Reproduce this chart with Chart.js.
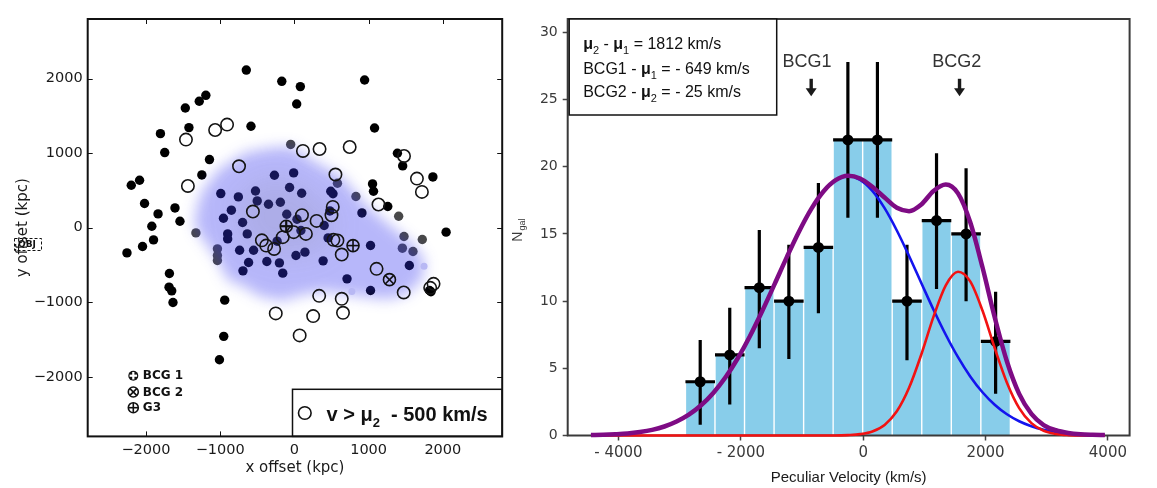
<!DOCTYPE html>
<html>
<head>
<meta charset="utf-8">
<script src="https://cdn.jsdelivr.net/npm/chart.js@4.4.0/dist/chart.umd.min.js"></script>
<style>
  body { margin: 0; background: #fff; width: 1157px; height: 488px; overflow: hidden; position: relative; }
  #c1 { position: absolute; left: 0; top: 0; }
  #c2 { position: absolute; left: 510px; top: 0; }
</style>
</head>
<body>
<canvas id="c1" width="510" height="488"></canvas>
<canvas id="c2" width="647" height="488"></canvas>
<script>
// ---- left panel: galaxy positions, x/y offset in kpc ----
const blackPts = [
  [-648,2115],[-170,1964],[-1193,1776],[-1282,1696],[-1470,1606],[-1421,1343],[-585,1361],
  [-1805,1262],[-1747,1008],[-1144,914],[-1247,708],[-2086,637],[-2198,570],[-2019,324],
  [-1837,185],[-1609,265],[-1542,87],[-1921,20],[-2256,-338],[-2046,-252],[-1898,-164],
  [-1684,-614],[-1689,-798],[-1653,-847],[-1636,-1003],[-939,-972],[-952,-1458],[-1010,-1772],
  [946,1981],[80,1893],[31,1660],[1080,1338],[1388,999],[1459,829],[1866,681],[1053,587],
  [1066,489],[1258,284],[2044,-60],[1821,-842],[1840,-860],
  [-992,458],[-755,413],[-524,493],[-501,359],[-349,315],[-269,704],[-189,342],[-849,235],
  [-956,127],[-698,70],[-103,181],[-65,539],[-10,735],[98,462],[490,489],[520,455],[477,225],
  [910,198],[35,114],[401,30],[-899,-83],[-899,-150],[-738,-302],[-635,-83],[-550,-302],
  [-617,-467],[-693,-579],[-371,-453],[-202,-472],[-157,-610],[-233,-181],[1026,-239],
  [1549,-507],[1026,-842],[709,-686],[387,-445],[142,-328],[21,-373],[454,-137],[88,-38]
];
const grayPts = [
  [-1327,-70],[-1037,-284],[-1037,-373],[-1037,-440],[-50,1117],[829,418],[580,596],
  [1405,154],[1477,-118],[1723,-158],[1455,-275],[1598,-320]
];
const faintPts = [[1747,-518],[774,-856]];
const openPts = [
  [-907,1383],[-1068,1311],[-1461,1182],[-1435,560],[-746,824],[-559,217],[115,1030],
  [339,1056],[745,1083],[1477,962],[1651,659],[1718,480],[553,713],[1133,311],[517,279],
  [500,168],[102,168],[299,91],[-251,-1150],[-438,-170],[-380,-240],[-273,-285],[-157,-127],
  [-10,-60],[155,-83],[526,-163],[580,-172],[638,-360],[1107,-552],[1473,-869],[1875,-753],
  [1830,-807],[334,-914],[638,-954],[655,-1142],[253,-1186],[71,-1445]
];
const bcg1Pos = [-110, 20];
const bcg2Pos = [1281, -697];
const g3Pos = [790, -240];
const blobOutline = [
  [-1340,0],[-1330,200],[-1250,480],[-1020,780],[-660,1010],[-300,1075],[-40,1090],[250,900],
  [630,690],[980,290],[1300,20],[1600,-220],[1760,-450],[1720,-700],[1500,-900],[1250,-960],
  [950,-930],[400,-850],[100,-900],[-150,-980],[-450,-930],[-700,-780],[-900,-700],
  [-1030,-440],[-1200,-200]
];
const blobCore = [[-800,400],[-300,700],[200,500],[550,100],[400,-300],[-200,-400],[-700,-200]];
const xyTicks = [-2000, -1000, 0, 1000, 2000];

// ---- right panel: peculiar velocity histogram (km/s) ----
const binCenters = [-2664, -2181, -1698, -1215, -732, -250, 233, 716, 1199, 1682, 2165];
const binWidth = 483;
const counts = [4, 6, 11, 10, 14, 22, 22, 10, 16, 15, 7];
const errLo = [0.8, 2.3, 6.5, 5.7, 9.1, 16.2, 16.2, 5.6, 10.9, 10.0, 3.1];
const errHi = [7.1, 9.5, 15.3, 14.2, 18.8, 27.8, 27.8, 14.2, 21.0, 19.9, 10.7];

const curveV = [-4450,-4250,-4050,-3850,-3650,-3450,-3250,-3050,-2850,-2650,-2450,-2250,-2050,
  -1850,-1650,-1450,-1250,-1050,-850,-650,-450,-250,-50,150,350,550,750,950,1150,1350,1550,
  1750,1950,2150,2350,2550,2750,2950,3150,3350,3550,3750,3950];
const blueFit = [0.03,0.05,0.09,0.15,0.26,0.42,0.67,1.04,1.55,2.25,3.17,4.33,5.75,7.41,9.27,
  11.25,13.26,15.17,16.85,18.16,19.0,19.3,19.03,18.21,16.92,15.26,13.36,11.35,9.36,7.5,5.83,
  4.4,3.22,2.29,1.58,1.06,0.69,0.43,0.27,0.16,0.09,0.05,0.03];
const redFit = [0,0,0,0,0,0,0,0,0,0,0,0,0,0,0,0,0,0,0,0,0,0.03,0.1,0.3,0.79,1.8,3.55,6.03,8.85,
  11.18,12.19,11.47,9.3,6.51,3.93,2.04,0.92,0.35,0.12,0.03,0,0,0];
const totalFit = [0.03,0.05,0.09,0.15,0.26,0.42,0.67,1.04,1.55,2.25,3.17,4.33,5.75,7.41,9.27,
  11.25,13.26,15.17,16.85,18.16,19.0,19.33,19.13,18.51,17.71,16.95,16.7,17.2,18.2,18.68,18.02,
  15.87,12.52,8.8,5.51,3.1,1.61,0.78,0.39,0.19,0.09,0.05,0.03];
const velTicks = [-4000, -2000, 0, 2000, 4000];
const countTicks = [0, 5, 10, 15, 20, 25, 30];
const bcgNames = ['BCG1', 'BCG2'];
const bcgLabelV = [-920, 1530];
const bcgArrowV = [-850, 1575];

Chart.defaults.animation = false;
Chart.defaults.plugins.legend.display = false;
Chart.defaults.plugins.tooltip.enabled = false;
Chart.defaults.font.family = '"DejaVu Sans", sans-serif';

const toXY = pts => pts.map(p => ({ x: p[0], y: p[1] }));

function seg(ctx, x1, y1, x2, y2) {
  ctx.beginPath(); ctx.moveTo(x1, y1); ctx.lineTo(x2, y2); ctx.stroke();
}

function drawRich(ctx, parts, x, y) {
  for (const [t, f, dy] of parts) {
    ctx.font = f;
    ctx.fillText(t, x, y + dy);
    x += ctx.measureText(t).width;
  }
}

function sym(ctx, kind, px, py, r) {
  ctx.save();
  ctx.strokeStyle = '#111';
  ctx.lineWidth = 1.6;
  if (kind === 'filled') {
    ctx.fillStyle = '#111';
    ctx.beginPath(); ctx.arc(px, py, r, 0, Math.PI * 2); ctx.fill();
    ctx.strokeStyle = '#fff'; ctx.lineWidth = 2.2;
    seg(ctx, px - r * 0.75, py, px + r * 0.75, py);
    seg(ctx, px, py - r * 0.75, px, py + r * 0.75);
  } else {
    ctx.beginPath(); ctx.arc(px, py, r, 0, Math.PI * 2); ctx.stroke();
    if (kind === 'cross') {
      const d = r * 0.72;
      seg(ctx, px - d, py - d, px + d, py + d);
      seg(ctx, px - d, py + d, px + d, py - d);
    } else {
      if (kind === 'thick') ctx.lineWidth = 2.2;
      seg(ctx, px - r, py, px + r, py);
      seg(ctx, px, py - r, px, py + r);
    }
  }
  ctx.restore();
}

function blobPath(ctx, x, y, pts) {
  ctx.beginPath();
  pts.forEach((p, i) => {
    const px = x.getPixelForValue(p[0]), py = y.getPixelForValue(p[1]);
    if (i === 0) ctx.moveTo(px, py); else ctx.lineTo(px, py);
  });
  ctx.closePath();
}

const leftDecor = {
  id: 'leftDecor',
  afterDatasetDraw(chart, args) {
    if (chart.data.datasets[args.index].label !== 'gray') return;
    const { ctx, chartArea: ca, scales: { x, y } } = chart;
    ctx.save();
    ctx.beginPath(); ctx.rect(ca.left, ca.top, ca.width, ca.height); ctx.clip();
    ctx.filter = 'blur(7px)';
    ctx.fillStyle = 'rgba(50,50,240,0.35)';
    blobPath(ctx, x, y, blobOutline); ctx.fill();
    ctx.filter = 'blur(14px)';
    ctx.fillStyle = 'rgba(120,120,135,0.16)';
    blobPath(ctx, x, y, blobCore); ctx.fill();
    ctx.restore();
  },
  afterDraw(chart) {
    const { ctx, chartArea: ca, scales: { x, y } } = chart;
    ctx.save();
    // special galaxies
    sym(ctx, 'thick', x.getPixelForValue(bcg1Pos[0]), y.getPixelForValue(bcg1Pos[1]), 6);
    sym(ctx, 'cross', x.getPixelForValue(bcg2Pos[0]), y.getPixelForValue(bcg2Pos[1]), 6);
    sym(ctx, 'plus', x.getPixelForValue(g3Pos[0]), y.getPixelForValue(g3Pos[1]), 6);

    // inward tick marks on all four sides
    ctx.strokeStyle = '#111'; ctx.lineWidth = 1;
    xyTicks.forEach(v => {
      const px = Math.round(x.getPixelForValue(v)) + 0.5;
      seg(ctx, px, ca.bottom, px, ca.bottom - 5);
      seg(ctx, px, ca.top, px, ca.top + 5);
    });
    xyTicks.forEach(v => {
      const py = Math.round(y.getPixelForValue(v)) + 0.5;
      seg(ctx, ca.left, py, ca.left + 5, py);
      seg(ctx, ca.right, py, ca.right - 5, py);
    });

    // symbol key, lower left
    const kx = ca.left + 45.6;
    const keys = [['filled', 'BCG 1', -60.7], ['cross', 'BCG 2', -44.4], ['plus', 'G3', -28.7]];
    ctx.fillStyle = '#111';
    ctx.font = 'bold 12px "DejaVu Sans"';
    ctx.textBaseline = 'middle';
    keys.forEach(([k, t, dy]) => {
      sym(ctx, k, kx, ca.bottom + dy, 5);
      ctx.fillText(t, kx + 9.5, ca.bottom + dy + 0.5);
    });

    // velocity legend box, lower right
    const bw = 209.7, bh = 47.1;
    const bx = ca.right - bw, by = ca.bottom - bh;
    ctx.fillStyle = '#fff';
    ctx.fillRect(bx, by, bw, bh);
    ctx.strokeStyle = '#111'; ctx.lineWidth = 1.5;
    ctx.strokeRect(bx, by, bw, bh);
    ctx.lineWidth = 1.6;
    ctx.beginPath(); ctx.arc(bx + 12.3, by + 23.7, 6.3, 0, Math.PI * 2); ctx.stroke();
    ctx.fillStyle = '#111';
    ctx.textBaseline = 'alphabetic';
    const B = 'bold 20px "Liberation Sans"', S = 'bold 13px "Liberation Sans"';
    drawRich(ctx, [['v > ', B, 0], ['\u03bc', B, 0], ['2', S, 6], ['  - 500 km/s', B, 0]], bx + 34, by + 31.6);

    // stray dashed box over the y label
    ctx.setLineDash([3, 2]); ctx.lineWidth = 1;
    ctx.strokeRect(14.5, 238.5, 27, 12);
    ctx.setLineDash([]);
    ctx.font = 'bold 9px "DejaVu Sans"';
    ctx.textBaseline = 'middle';
    ctx.fillText('QBJ', 18, 245);

    // frame
    ctx.strokeStyle = '#111'; ctx.lineWidth = 2;
    ctx.strokeRect(ca.left, ca.top, ca.width, ca.height);
    ctx.restore();
  }
};

const minusFmt = v => (v < 0 ? '\u2212' + Math.abs(v) : String(v));

new Chart(document.getElementById('c1'), {
  type: 'scatter',
  data: {
    datasets: [
      { label: 'open', data: toXY(openPts), pointRadius: 6.2, pointBackgroundColor: 'rgba(0,0,0,0)',
        pointBorderColor: '#151515', pointBorderWidth: 1.6, order: 2 },
      { label: 'faint', data: toXY(faintPts), pointRadius: 3.5, pointBackgroundColor: '#b8b8f4',
        pointBorderWidth: 0, order: 3 },
      { label: 'gray', data: toXY(grayPts), pointRadius: 4.7, pointBackgroundColor: '#484848',
        pointBorderWidth: 0, order: 5 },
      { label: 'black', data: toXY(blackPts), pointRadius: 4.7, pointBackgroundColor: '#000',
        pointBorderWidth: 0, order: 6 }
    ]
  },
  options: {
    responsive: false,
    devicePixelRatio: 1,
    layout: { padding: { top: 19, right: 5.6, left: 0, bottom: 0 } },
    scales: {
      x: {
        type: 'linear', min: -2785, max: 2800,
        afterBuildTicks: s => { s.ticks = xyTicks.map(v => ({ value: v })); },
        afterFit: s => { s.height = 51.6; },
        grid: { display: false, drawTicks: false },
        border: { display: false },
        ticks: { font: { size: 14.5 }, color: '#1a1a1a', padding: 5, callback: minusFmt },
        title: { display: true, text: 'x offset (kpc)', color: '#1a1a1a',
                 font: { size: 15 }, padding: { top: 0, bottom: 11 } }
      },
      y: {
        type: 'linear', min: -2800, max: 2800,
        afterBuildTicks: s => { s.ticks = xyTicks.map(v => ({ value: v })); },
        afterFit: s => { s.width = 87.7; },
        grid: { display: false, drawTicks: false },
        border: { display: false },
        ticks: { font: { size: 14.5 }, color: '#1a1a1a', padding: 5, callback: minusFmt },
        title: { display: true, text: 'y offset (kpc)', color: '#1a1a1a',
                 font: { size: 15 }, padding: { top: 14, bottom: 0 } }
      }
    }
  },
  plugins: [leftDecor]
});

// ---- right panel ----
const errV = [], errH = [];
binCenters.forEach((c, i) => {
  errV.push({ x: c, y: errLo[i] }, { x: c, y: errHi[i] }, { x: c, y: null });
  errH.push({ x: c - binWidth / 2, y: counts[i] }, { x: c + binWidth / 2, y: counts[i] }, { x: c, y: null });
});
const curve = vals => curveV.map((v, i) => ({ x: v, y: vals[i] }));

const rightDecor = {
  id: 'rightDecor',
  afterDatasetDraw(chart, args) {
    if (chart.data.datasets[args.index].label !== 'hist') return;
    const { ctx, chartArea: ca } = chart;
    ctx.save();
    ctx.strokeStyle = '#3a3a3a'; ctx.lineWidth = 2;
    ctx.strokeRect(ca.left, ca.top, ca.width, ca.height);
    ctx.restore();
  },
  afterDraw(chart) {
    const { ctx, chartArea: ca, scales: { x, y } } = chart;
    ctx.save();
    // fit summary box
    const bx = ca.left + 1.5, by = ca.top, bw = 207.5, bh = 96;
    ctx.fillStyle = '#fff';
    ctx.fillRect(bx, by, bw, bh);
    ctx.strokeStyle = '#111'; ctx.lineWidth = 1.5;
    ctx.strokeRect(bx, by, bw, bh);
    ctx.fillStyle = '#111';
    const N = '16px "Liberation Sans"', B = 'bold 16px "Liberation Sans"', S = '11px "Liberation Sans"';
    const tx = bx + 14;
    drawRich(ctx, [['\u03bc', B, 0], ['2', S, 5], [' - ', N, 0], ['\u03bc', B, 0], ['1', S, 5],
                   [' = 1812 km/s', N, 0]], tx, by + 30);
    drawRich(ctx, [['BCG1 - ', N, 0], ['\u03bc', B, 0], ['1', S, 5], [' = - 649 km/s', N, 0]], tx, by + 55);
    drawRich(ctx, [['BCG2 - ', N, 0], ['\u03bc', B, 0], ['2', S, 5], [' = - 25 km/s', N, 0]], tx, by + 77.5);

    // BCG markers with arrows
    ctx.font = '18px "Liberation Sans"';
    ctx.textAlign = 'center';
    ctx.textBaseline = 'middle';
    bcgNames.forEach((name, i) => {
      ctx.fillStyle = '#333';
      ctx.fillText(name, x.getPixelForValue(bcgLabelV[i]), y.getPixelForValue(27.8));
      const ax = x.getPixelForValue(bcgArrowV[i]);
      const yTop = y.getPixelForValue(26.55), yBase = y.getPixelForValue(25.85), yTip = y.getPixelForValue(25.25);
      ctx.strokeStyle = '#1a1a1a';
      ctx.lineWidth = 3.4;
      seg(ctx, ax, yTop, ax, yBase + 1);
      ctx.fillStyle = '#1a1a1a';
      ctx.beginPath(); ctx.moveTo(ax - 5.5, yBase); ctx.lineTo(ax + 5.5, yBase); ctx.lineTo(ax, yTip);
      ctx.closePath(); ctx.fill();
    });

    // y title N_gal
    ctx.translate(12, 241.7);
    ctx.rotate(-Math.PI / 2);
    ctx.textAlign = 'left';
    ctx.textBaseline = 'alphabetic';
    ctx.fillStyle = '#3a3a3a';
    ctx.font = '14px "Liberation Sans"';
    ctx.fillText('N', 0, 0);
    const nw = ctx.measureText('N').width;
    ctx.font = '9px "Liberation Sans"';
    ctx.fillText('gal', nw + 1, 3);
    ctx.restore();
  }
};

new Chart(document.getElementById('c2'), {
  type: 'bar',
  data: {
    datasets: [
      { type: 'line', label: 'total', data: curve(totalFit), borderColor: '#7e0b84', borderWidth: 4.5,
        pointRadius: 0, cubicInterpolationMode: 'monotone', clip: 8, order: 0 },
      { type: 'line', label: 'red', data: curve(redFit), borderColor: '#f21212', borderWidth: 2.6,
        pointRadius: 0, cubicInterpolationMode: 'monotone', clip: 8, order: 1 },
      { type: 'line', label: 'blue', data: curve(blueFit), borderColor: '#1414ee', borderWidth: 2.6,
        pointRadius: 0, cubicInterpolationMode: 'monotone', clip: 8, order: 2 },
      { type: 'scatter', label: 'pts', data: binCenters.map((c, i) => ({ x: c, y: counts[i] })),
        pointRadius: 5.5, pointBackgroundColor: '#000', pointBorderWidth: 0, order: 3 },
      { type: 'line', label: 'errH', data: errH, borderColor: '#000', borderWidth: 3.2, pointRadius: 0,
        spanGaps: false, order: 4 },
      { type: 'line', label: 'errV', data: errV, borderColor: '#000', borderWidth: 3.2, pointRadius: 0,
        spanGaps: false, clip: 4, order: 5 },
      { type: 'bar', label: 'hist', data: binCenters.map((c, i) => ({ x: c, y: counts[i] })),
        backgroundColor: '#88cdea', borderColor: '#ffffff',
        borderWidth: { left: 1, right: 1, top: 0, bottom: 0 }, borderSkipped: false,
        barPercentage: 1, categoryPercentage: 1, order: 6 }
    ]
  },
  options: {
    responsive: false,
    devicePixelRatio: 1,
    layout: { padding: { top: 19, right: 27.4, left: 0, bottom: 0 } },
    scales: {
      x: {
        type: 'linear', min: -4830, max: 4355, offset: false,
        afterBuildTicks: s => { s.ticks = velTicks.map(v => ({ value: v })); },
        afterFit: s => { s.height = 52.5; },
        grid: { drawOnChartArea: false, drawTicks: true, tickLength: 5, tickColor: '#444', tickWidth: 1.5, offset: false },
        border: { display: false },
        ticks: { font: { size: 15 }, color: '#3a3a3a', padding: 4,
                 callback: v => (v < 0 ? '- ' + Math.abs(v) : String(v)) },
        title: { display: true, text: 'Peculiar Velocity (km/s)', color: '#1a1a1a',
                 font: { family: '"Liberation Sans"', size: 15 }, padding: { top: 0, bottom: 1 } }
      },
      y: {
        type: 'linear', min: 0, max: 31,
        afterBuildTicks: s => { s.ticks = countTicks.map(v => ({ value: v })); },
        afterFit: s => { s.width = 57.7; },
        grid: { drawOnChartArea: false, drawTicks: true, tickLength: 5, tickColor: '#444', tickWidth: 1.5 },
        border: { display: false },
        ticks: { font: { size: 14 }, color: '#3a3a3a', padding: 5 },
        title: { display: false }
      }
    }
  },
  plugins: [rightDecor]
});
</script>
</body>
</html>
